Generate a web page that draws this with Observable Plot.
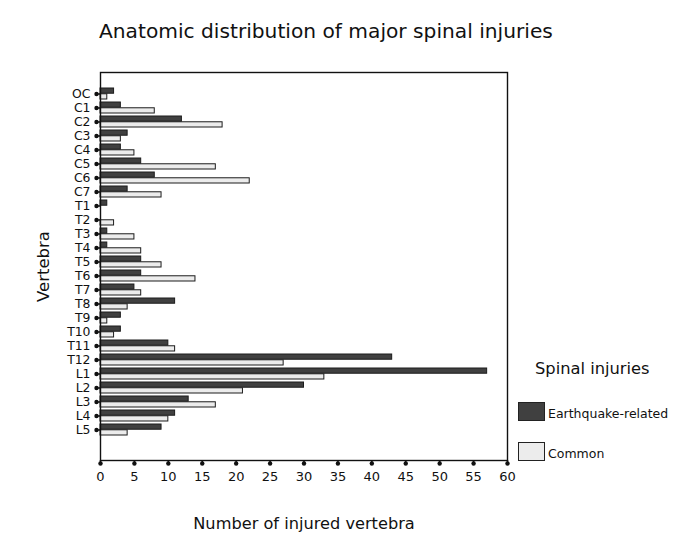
<!DOCTYPE html>
<html>
<head>
<meta charset="utf-8">
<script src="https://cdn.jsdelivr.net/npm/d3@7"></script>
<script src="https://cdn.jsdelivr.net/npm/@observablehq/plot@0.6"></script>
<style>
  html, body { margin: 0; padding: 0; background: #fff; }
  #wrap { position: relative; width: 685px; height: 559px; font-family: "DejaVu Sans", Verdana, sans-serif; color: #111; }
  #title { position: absolute; left: 99px; top: 19px; font-size: 20.2px; white-space: nowrap; }
  .legtitle { position: absolute; left: 535px; top: 359px; font-size: 16.3px; white-space: nowrap; }
  .sw { position: absolute; width: 27px; height: 19px; border: 1.3px solid #222; box-sizing: border-box; }
  .lab { position: absolute; font-size: 12.5px; white-space: nowrap; }
</style>
</head>
<body>
<div id="wrap">
  <div id="title">Anatomic distribution of major spinal injuries</div>
  <div id="legend"></div>
</div>
<script>
const vertebrae = ["OC","C1","C2","C3","C4","C5","C6","C7","T1","T2","T3","T4","T5","T6","T7","T8","T9","T10","T11","T12","L1","L2","L3","L4","L5"];
const earthquake = [2,3,12,4,3,6,8,4,1,0,1,1,6,6,5,11,3,3,10,43,57,30,13,11,9];
const common = [1,8,18,3,5,17,22,9,0,2,5,6,9,14,6,4,1,2,11,27,33,21,17,10,4];
const seriesNames = ["Earthquake-related","Common"];
const seriesColors = ["#404040","#ececec"];
const xTicks = [0,5,10,15,20,25,30,35,40,45,50,55,60];
const title = "Anatomic distribution of major spinal injuries";
const xLabel = "Number of injured vertebra";
const yLabel = "Vertebra";
const legendTitle = "Spinal injuries";

const rows = [];
vertebrae.forEach((v, i) => {
  rows.push({v, series: seriesNames[0], value: earthquake[i]});
  rows.push({v, series: seriesNames[1], value: common[i]});
});
const nonzero = rows.filter(d => d.value > 0);

const W = 685, H = 559;
const yRange = [81, 442];
const step = (yRange[1] - yRange[0]) / (vertebrae.length - 0.2 + 0.2);
const half = step * 0.8 / 2;

const font = "DejaVu Sans, Verdana, sans-serif";
const chart = Plot.plot({
  width: W, height: H,
  marginLeft: 100, marginRight: 178, marginTop: 72, marginBottom: 99,
  style: {fontFamily: font, background: "white", color: "#111"},
  x: {domain: [0, 60]},
  y: {domain: vertebrae, range: yRange, paddingInner: 0.2, paddingOuter: 0.1},
  color: {domain: seriesNames, range: seriesColors},
  marks: [
    Plot.barX(nonzero.filter(d => d.series === seriesNames[0]), {
      y: "v", x: "value", fill: "series", stroke: "#1c1c1c", strokeWidth: 1,
      insetBottom: half, insetTop: 0
    }),
    Plot.barX(nonzero.filter(d => d.series === seriesNames[1]), {
      y: "v", x: "value", fill: "series", stroke: "#1c1c1c", strokeWidth: 1,
      insetTop: half, insetBottom: 0
    }),
    Plot.frame({stroke: "#111", strokeWidth: 1.4}),
    Plot.axisY({tickSize: 4, tickPadding: 6, fontSize: 12.4, label: null, strokeWidth: 1.5}),
    Plot.dot(vertebrae, {y: d => d, frameAnchor: "left", dx: -4, r: 2.2, fill: "#111"}),
    Plot.axisX({ticks: xTicks, tickSize: 4, tickPadding: 7, fontSize: 13, label: null, strokeWidth: 1.5}),
    Plot.dot(xTicks, {x: d => d, frameAnchor: "bottom", dy: 3, r: 2.2, fill: "#111"}),
    Plot.text([xLabel], {text: d => d, frameAnchor: "bottom", textAnchor: "middle", dy: 68, fontSize: 16.2, fill: "#111"}),
    Plot.text([yLabel], {text: d => d, frameAnchor: "left", textAnchor: "middle", dx: -57, rotate: -90, fontSize: 16.5, fill: "#111"})
  ]
});
chart.style.position = "absolute";
chart.style.left = "0px";
chart.style.top = "0px";
const wrap = document.getElementById("wrap");
wrap.insertBefore(chart, wrap.firstChild);

const leg = document.getElementById("legend");
leg.innerHTML = `<div class="legtitle">${legendTitle}</div>` +
  seriesNames.map((s, i) => {
    const top = [402, 442][i];
    return `<div class="sw" style="left:518px;top:${top}px;background:${seriesColors[i]}"></div>` +
           `<div class="lab" style="left:548px;top:${top + 4}px">${s}</div>`;
  }).join("");
</script>
</body>
</html>
